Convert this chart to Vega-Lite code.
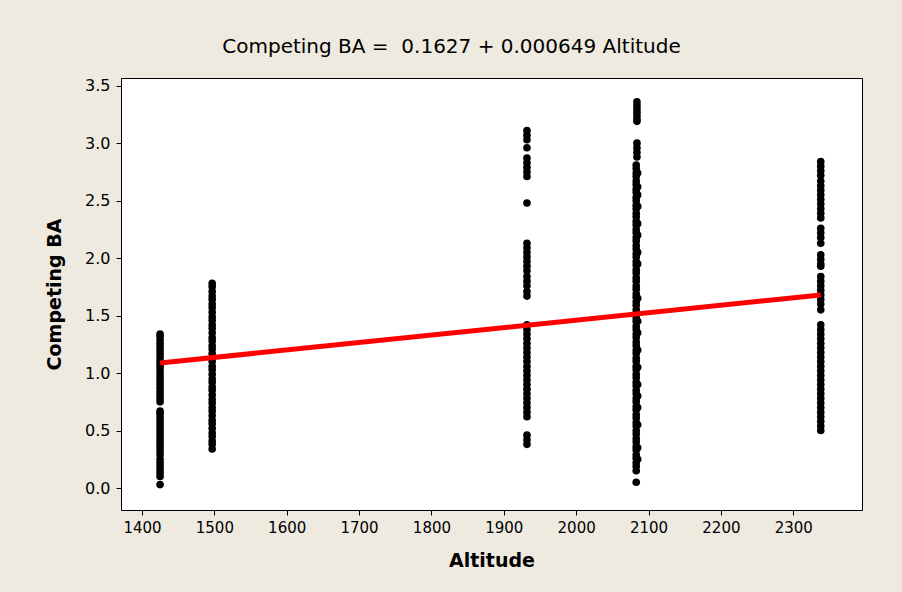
{
  "$schema": "https://vega.github.io/schema/vega-lite/v6.json",
  "width": 741,
  "height": 432,
  "autosize": "none",
  "padding": {"left": 121, "top": 78, "right": 40, "bottom": 82},
  "background": "#EEEAE0",
  "view": {"fill": "white", "stroke": "black", "strokeWidth": 1},
  "title": {
    "text": "Competing BA = \u00a00.1627 + 0.000649 Altitude",
    "font": "DejaVu Sans",
    "fontSize": 20,
    "fontWeight": "normal",
    "color": "black",
    "anchor": "middle",
    "offset": 21,
    "dx": -40
  },
  "datasets": {
    "pts": [
      {"Altitude":1425,"BA":0.03},{"Altitude":1425,"BA":0.10},{"Altitude":1425,"BA":0.13},{"Altitude":1425,"BA":0.16},{"Altitude":1425,"BA":0.19},{"Altitude":1425,"BA":0.22},{"Altitude":1425,"BA":0.25},{"Altitude":1425,"BA":0.29},{"Altitude":1425,"BA":0.32},{"Altitude":1425,"BA":0.35},{"Altitude":1425,"BA":0.38},{"Altitude":1425,"BA":0.41},{"Altitude":1425,"BA":0.44},{"Altitude":1425,"BA":0.47},{"Altitude":1425,"BA":0.50},{"Altitude":1425,"BA":0.53},{"Altitude":1425,"BA":0.56},{"Altitude":1425,"BA":0.59},{"Altitude":1425,"BA":0.62},{"Altitude":1425,"BA":0.65},{"Altitude":1425,"BA":0.67},
      {"Altitude":1425,"BA":0.75},{"Altitude":1425,"BA":0.78},{"Altitude":1425,"BA":0.81},{"Altitude":1425,"BA":0.84},{"Altitude":1425,"BA":0.87},{"Altitude":1425,"BA":0.90},{"Altitude":1425,"BA":0.93},{"Altitude":1425,"BA":0.96},{"Altitude":1425,"BA":0.99},{"Altitude":1425,"BA":1.02},{"Altitude":1425,"BA":1.05},{"Altitude":1425,"BA":1.08},{"Altitude":1425,"BA":1.11},{"Altitude":1425,"BA":1.14},{"Altitude":1425,"BA":1.17},{"Altitude":1425,"BA":1.20},{"Altitude":1425,"BA":1.23},{"Altitude":1425,"BA":1.26},{"Altitude":1425,"BA":1.29},{"Altitude":1425,"BA":1.32},{"Altitude":1425,"BA":1.34},
      {"Altitude":1497,"BA":0.34},{"Altitude":1497,"BA":0.38},{"Altitude":1497,"BA":0.41},{"Altitude":1497,"BA":0.45},{"Altitude":1497,"BA":0.48},{"Altitude":1497,"BA":0.52},{"Altitude":1497,"BA":0.56},{"Altitude":1497,"BA":0.59},{"Altitude":1497,"BA":0.63},{"Altitude":1497,"BA":0.67},{"Altitude":1497,"BA":0.70},{"Altitude":1497,"BA":0.74},{"Altitude":1497,"BA":0.77},{"Altitude":1497,"BA":0.81},{"Altitude":1497,"BA":0.85},{"Altitude":1497,"BA":0.88},{"Altitude":1497,"BA":0.92},{"Altitude":1497,"BA":0.95},{"Altitude":1497,"BA":0.99},{"Altitude":1497,"BA":1.03},{"Altitude":1497,"BA":1.06},{"Altitude":1497,"BA":1.10},{"Altitude":1497,"BA":1.13},{"Altitude":1497,"BA":1.17},{"Altitude":1497,"BA":1.21},{"Altitude":1497,"BA":1.24},{"Altitude":1497,"BA":1.28},{"Altitude":1497,"BA":1.31},{"Altitude":1497,"BA":1.35},{"Altitude":1497,"BA":1.39},{"Altitude":1497,"BA":1.42},{"Altitude":1497,"BA":1.46},{"Altitude":1497,"BA":1.49},{"Altitude":1497,"BA":1.53},{"Altitude":1497,"BA":1.57},{"Altitude":1497,"BA":1.60},{"Altitude":1497,"BA":1.64},{"Altitude":1497,"BA":1.67},{"Altitude":1497,"BA":1.71},{"Altitude":1497,"BA":1.75},{"Altitude":1497,"BA":1.78},
      {"Altitude":1932,"BA":3.11},{"Altitude":1932,"BA":3.07},{"Altitude":1932,"BA":3.03},{"Altitude":1932,"BA":2.96},{"Altitude":1932,"BA":2.87},{"Altitude":1932,"BA":2.83},{"Altitude":1932,"BA":2.79},{"Altitude":1932,"BA":2.75},{"Altitude":1932,"BA":2.71},{"Altitude":1932,"BA":2.48},
      {"Altitude":1932,"BA":2.13},{"Altitude":1932,"BA":2.09},{"Altitude":1932,"BA":2.05},{"Altitude":1932,"BA":2.01},{"Altitude":1932,"BA":1.97},{"Altitude":1932,"BA":1.93},{"Altitude":1932,"BA":1.89},{"Altitude":1932,"BA":1.84},{"Altitude":1932,"BA":1.80},{"Altitude":1932,"BA":1.76},{"Altitude":1932,"BA":1.71},{"Altitude":1932,"BA":1.67},
      {"Altitude":1932,"BA":1.42},{"Altitude":1932,"BA":1.38},{"Altitude":1932,"BA":1.34},{"Altitude":1932,"BA":1.30},{"Altitude":1932,"BA":1.26},{"Altitude":1932,"BA":1.22},{"Altitude":1932,"BA":1.18},{"Altitude":1932,"BA":1.14},{"Altitude":1932,"BA":1.10},{"Altitude":1932,"BA":1.06},{"Altitude":1932,"BA":1.02},{"Altitude":1932,"BA":0.98},{"Altitude":1932,"BA":0.94},{"Altitude":1932,"BA":0.90},{"Altitude":1932,"BA":0.86},{"Altitude":1932,"BA":0.82},{"Altitude":1932,"BA":0.78},{"Altitude":1932,"BA":0.74},{"Altitude":1932,"BA":0.70},{"Altitude":1932,"BA":0.66},{"Altitude":1932,"BA":0.62},{"Altitude":1932,"BA":0.46},{"Altitude":1932,"BA":0.42},{"Altitude":1932,"BA":0.38},
      {"Altitude":2084,"BA":3.36},{"Altitude":2084,"BA":3.33},{"Altitude":2084,"BA":3.30},{"Altitude":2084,"BA":3.27},{"Altitude":2084,"BA":3.24},{"Altitude":2084,"BA":3.21},{"Altitude":2084,"BA":3.19},{"Altitude":2084,"BA":3.00},{"Altitude":2084,"BA":2.96},{"Altitude":2084,"BA":2.92},{"Altitude":2084,"BA":2.88},
      {"Altitude":2083,"BA":2.81},{"Altitude":2083,"BA":2.78},{"Altitude":2083,"BA":2.74},{"Altitude":2083,"BA":2.71},{"Altitude":2083,"BA":2.67},{"Altitude":2083,"BA":2.64},{"Altitude":2083,"BA":2.60},{"Altitude":2083,"BA":2.57},{"Altitude":2083,"BA":2.53},{"Altitude":2083,"BA":2.50},{"Altitude":2083,"BA":2.46},{"Altitude":2083,"BA":2.43},{"Altitude":2083,"BA":2.39},{"Altitude":2083,"BA":2.36},{"Altitude":2083,"BA":2.32},{"Altitude":2083,"BA":2.29},{"Altitude":2083,"BA":2.25},{"Altitude":2083,"BA":2.22},{"Altitude":2083,"BA":2.18},{"Altitude":2083,"BA":2.15},{"Altitude":2083,"BA":2.11},{"Altitude":2083,"BA":2.08},{"Altitude":2083,"BA":2.04},{"Altitude":2083,"BA":2.01},{"Altitude":2083,"BA":1.97},{"Altitude":2083,"BA":1.94},{"Altitude":2083,"BA":1.90},{"Altitude":2083,"BA":1.87},{"Altitude":2083,"BA":1.83},{"Altitude":2083,"BA":1.80},{"Altitude":2083,"BA":1.76},{"Altitude":2083,"BA":1.73},{"Altitude":2083,"BA":1.69},{"Altitude":2083,"BA":1.66},{"Altitude":2083,"BA":1.62},{"Altitude":2083,"BA":1.59},{"Altitude":2083,"BA":1.55},{"Altitude":2083,"BA":1.52},{"Altitude":2083,"BA":1.48},{"Altitude":2083,"BA":1.45},{"Altitude":2083,"BA":1.41},{"Altitude":2083,"BA":1.38},{"Altitude":2083,"BA":1.34},{"Altitude":2083,"BA":1.31},{"Altitude":2083,"BA":1.27},{"Altitude":2083,"BA":1.24},{"Altitude":2083,"BA":1.20},{"Altitude":2083,"BA":1.17},{"Altitude":2083,"BA":1.13},{"Altitude":2083,"BA":1.10},{"Altitude":2083,"BA":1.06},{"Altitude":2083,"BA":1.03},{"Altitude":2083,"BA":0.99},{"Altitude":2083,"BA":0.96},{"Altitude":2083,"BA":0.92},{"Altitude":2083,"BA":0.89},{"Altitude":2083,"BA":0.85},{"Altitude":2083,"BA":0.82},{"Altitude":2083,"BA":0.78},{"Altitude":2083,"BA":0.75},{"Altitude":2083,"BA":0.71},{"Altitude":2083,"BA":0.68},{"Altitude":2083,"BA":0.64},{"Altitude":2083,"BA":0.61},{"Altitude":2083,"BA":0.57},{"Altitude":2083,"BA":0.54},{"Altitude":2083,"BA":0.50},{"Altitude":2083,"BA":0.47},{"Altitude":2083,"BA":0.43},{"Altitude":2083,"BA":0.40},{"Altitude":2083,"BA":0.36},{"Altitude":2083,"BA":0.33},{"Altitude":2083,"BA":0.29},{"Altitude":2083,"BA":0.26},{"Altitude":2083,"BA":0.22},{"Altitude":2083,"BA":0.19},{"Altitude":2083,"BA":0.15},{"Altitude":2083,"BA":0.05},
      {"Altitude":2085,"BA":2.74},{"Altitude":2085,"BA":2.62},{"Altitude":2085,"BA":2.55},{"Altitude":2085,"BA":2.45},{"Altitude":2085,"BA":2.30},{"Altitude":2085,"BA":2.20},{"Altitude":2085,"BA":2.05},{"Altitude":2085,"BA":1.95},{"Altitude":2085,"BA":1.65},{"Altitude":2085,"BA":1.45},{"Altitude":2085,"BA":1.35},{"Altitude":2085,"BA":1.20},{"Altitude":2085,"BA":1.05},{"Altitude":2085,"BA":0.90},{"Altitude":2085,"BA":0.80},{"Altitude":2085,"BA":0.70},{"Altitude":2085,"BA":0.55},{"Altitude":2085,"BA":0.35},{"Altitude":2085,"BA":0.25},
      {"Altitude":2338,"BA":2.84},{"Altitude":2338,"BA":2.80},{"Altitude":2338,"BA":2.76},{"Altitude":2338,"BA":2.72},{"Altitude":2338,"BA":2.67},{"Altitude":2338,"BA":2.63},{"Altitude":2338,"BA":2.59},{"Altitude":2338,"BA":2.55},{"Altitude":2338,"BA":2.51},{"Altitude":2338,"BA":2.47},{"Altitude":2338,"BA":2.43},{"Altitude":2338,"BA":2.39},{"Altitude":2338,"BA":2.35},
      {"Altitude":2338,"BA":2.26},{"Altitude":2338,"BA":2.22},{"Altitude":2338,"BA":2.18},{"Altitude":2338,"BA":2.13},
      {"Altitude":2338,"BA":2.03},{"Altitude":2338,"BA":1.99},{"Altitude":2338,"BA":1.95},{"Altitude":2338,"BA":1.93},
      {"Altitude":2338,"BA":1.84},{"Altitude":2338,"BA":1.80},{"Altitude":2338,"BA":1.76},{"Altitude":2338,"BA":1.72},{"Altitude":2338,"BA":1.68},{"Altitude":2338,"BA":1.64},{"Altitude":2338,"BA":1.60},{"Altitude":2338,"BA":1.55},
      {"Altitude":2338,"BA":1.42},{"Altitude":2338,"BA":1.38},{"Altitude":2338,"BA":1.34},{"Altitude":2338,"BA":1.30},{"Altitude":2338,"BA":1.26},{"Altitude":2338,"BA":1.22},{"Altitude":2338,"BA":1.18},{"Altitude":2338,"BA":1.14},{"Altitude":2338,"BA":1.10},{"Altitude":2338,"BA":1.06},{"Altitude":2338,"BA":1.02},{"Altitude":2338,"BA":0.98},{"Altitude":2338,"BA":0.94},{"Altitude":2338,"BA":0.90},{"Altitude":2338,"BA":0.86},{"Altitude":2338,"BA":0.82},{"Altitude":2338,"BA":0.78},{"Altitude":2338,"BA":0.74},{"Altitude":2338,"BA":0.70},{"Altitude":2338,"BA":0.66},{"Altitude":2338,"BA":0.62},{"Altitude":2338,"BA":0.58},{"Altitude":2338,"BA":0.54},{"Altitude":2338,"BA":0.50}
    ],
    "fit": [
      {"Altitude":1425,"BA":1.0876},
      {"Altitude":2338,"BA":1.6801}
    ]
  },
  "layer": [
    {
      "data": {"name": "pts"},
      "mark": {"type": "circle", "color": "black", "size": 58, "opacity": 1},
      "encoding": {
        "x": {
          "field": "Altitude", "type": "quantitative",
          "scale": {"domain": [1371, 2395], "nice": false, "zero": false},
          "axis": {
            "title": "Altitude", "values": [1400,1500,1600,1700,1800,1900,2000,2100,2200,2300], "format": "d",
            "grid": false, "domain": false, "tickColor": "black", "tickSize": 5,
            "labelFont": "DejaVu Sans", "labelFontSize": 15, "labelColor": "black", "labelPadding": 5,
            "titleFont": "DejaVu Sans", "titleFontSize": 19, "titleFontWeight": "bold", "titleColor": "black", "titlePadding": 16
          }
        },
        "y": {
          "field": "BA", "type": "quantitative",
          "scale": {"domain": [-0.191, 3.567], "nice": false, "zero": false},
          "axis": {
            "title": "Competing BA", "values": [0,0.5,1,1.5,2,2.5,3,3.5], "format": ".1f",
            "grid": false, "domain": false, "tickColor": "black", "tickSize": 5,
            "labelFont": "DejaVu Sans", "labelFontSize": 16, "labelColor": "black", "labelPadding": 6,
            "titleFont": "DejaVu Sans", "titleFontSize": 19, "titleFontWeight": "bold", "titleColor": "black", "titlePadding": 20
          }
        }
      }
    },
    {
      "data": {"name": "fit"},
      "mark": {"type": "line", "color": "#FF0000", "strokeWidth": 5},
      "encoding": {
        "x": {"field": "Altitude", "type": "quantitative"},
        "y": {"field": "BA", "type": "quantitative"}
      }
    }
  ]
}
